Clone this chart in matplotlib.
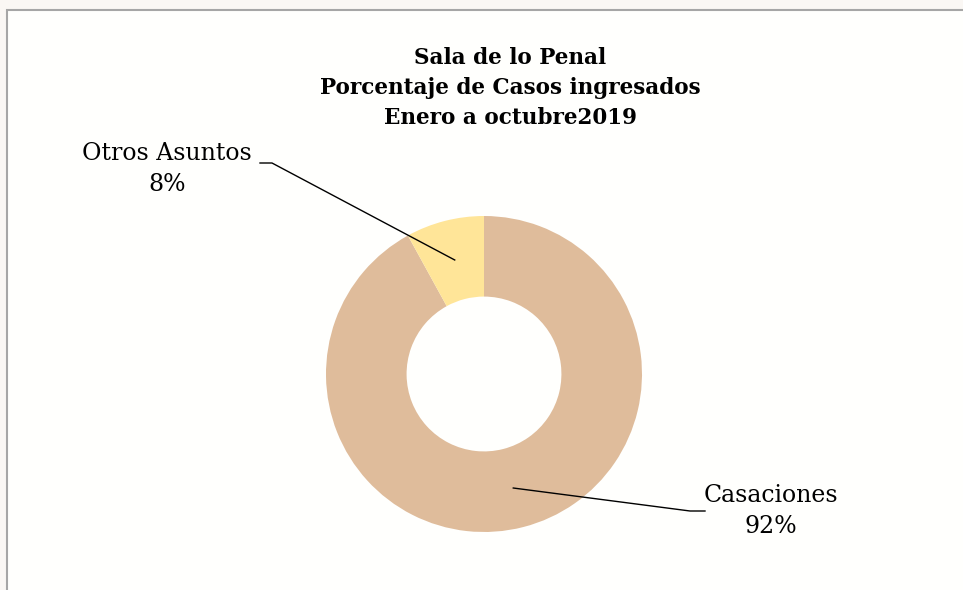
import numpy as np
import matplotlib.pyplot as plt
from matplotlib.patches import Rectangle
from matplotlib.lines import Line2D

categories = ["Casaciones", "Otros Asuntos"]
percentages = [92, 8]
colors = ["#DFBC9B", "#FFE598"]
title_lines = ["Sala de lo Penal", "Porcentaje de Casos ingresados", "Enero a octubre2019"]

W, H = 963, 590
fig = plt.figure(figsize=(W / 100, H / 100), dpi=100)
fig.patch.set_facecolor("#FAF7F4")

# chart area with grey frame
fig.patches.append(Rectangle((7 / W, -0.01), 1, 1.01 - 10 / H, transform=fig.transFigure,
                             facecolor="#FFFFFD", edgecolor="#A6A6A6", linewidth=1.5,
                             zorder=-5))

serif = ["DejaVu Serif"]

for i, line in enumerate(title_lines):
    fig.text(510 / W, 1 - (58 + 30 * i) / H, line, ha="center", va="center",
             fontsize=15.5, fontweight="bold", family=serif)

cx, cy, r = 484, 374, 158
ax = fig.add_axes([(cx - r) / W, (H - cy - r) / H, 2 * r / W, 2 * r / H])

ring = 0.51
wedges, _ = ax.pie(percentages, colors=colors, startangle=90, counterclock=False,
                   radius=1, wedgeprops=dict(width=ring, linewidth=0))
ax.set_xlim(-1, 1)
ax.set_ylim(-1, 1)
ax.axis("off")

# label positions (pixels from top-left): text centre, elbow, end
label_layout = {
    "Otros Asuntos": dict(text=(167, 169), elbow=(272, 163), end=(260, 163)),
    "Casaciones": dict(text=(771, 511), elbow=(690, 511), end=(705, 511)),
}

rmid = 1 - ring / 2
for w, name, pct in zip(wedges, categories, percentages):
    ang = np.deg2rad((w.theta1 + w.theta2) / 2)
    px, py = ax.transData.transform((rmid * np.cos(ang), rmid * np.sin(ang)))
    lay = label_layout[name]
    ex, ey = lay["elbow"]
    nx, ny = lay["end"]
    fig.lines.append(Line2D([px / W, ex / W, nx / W], [py / H, 1 - ey / H, 1 - ny / H],
                            transform=fig.transFigure, color="black", linewidth=1))
    tx, ty = lay["text"]
    fig.text(tx / W, 1 - ty / H, f"{name}\n{pct}%", ha="center", va="center",
             fontsize=17, family=serif, linespacing=1.4)

fig.savefig("out.png", dpi=100, facecolor=fig.get_facecolor())
